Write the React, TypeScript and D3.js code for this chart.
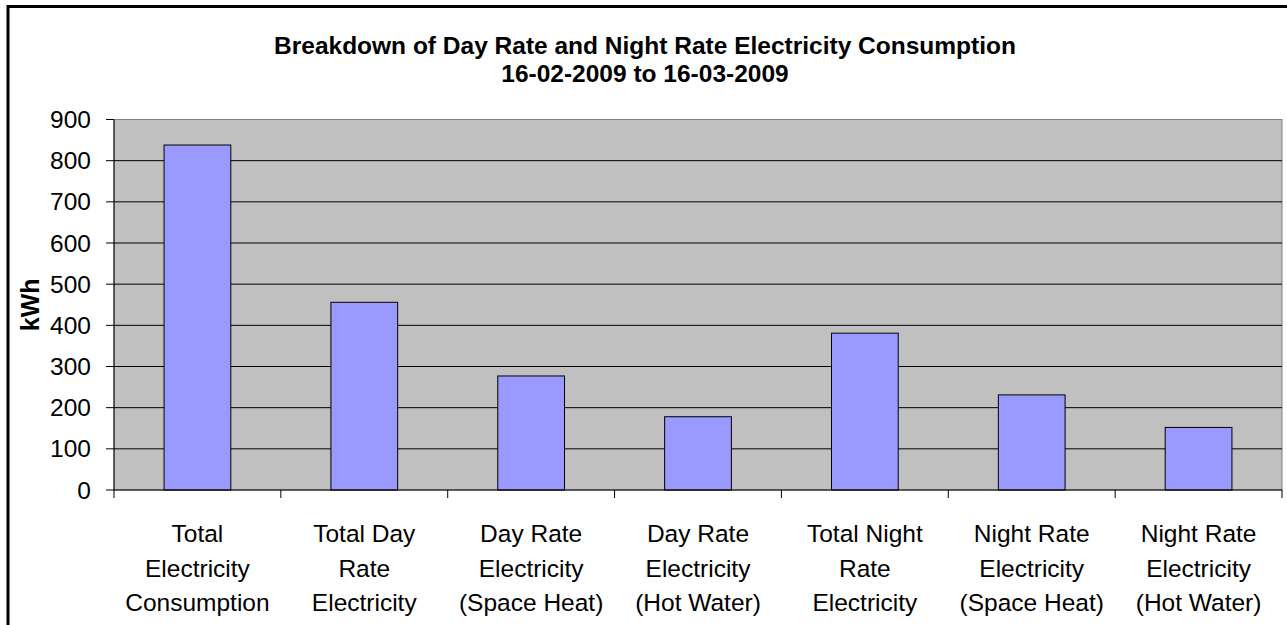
import React from "react";
import * as d3 from "d3";

const categories: string[][] = [
  ["Total", "Electricity", "Consumption"],
  ["Total Day", "Rate", "Electricity"],
  ["Day Rate", "Electricity", "(Space Heat)"],
  ["Day Rate", "Electricity", "(Hot Water)"],
  ["Total Night", "Rate", "Electricity"],
  ["Night Rate", "Electricity", "(Space Heat)"],
  ["Night Rate", "Electricity", "(Hot Water)"],
];
const values: number[] = [838, 456, 277, 178, 381, 231, 152];
const yTicks: number[] = [0, 100, 200, 300, 400, 500, 600, 700, 800, 900];
const titleLines: string[] = [
  "Breakdown of Day Rate and Night Rate Electricity Consumption",
  "16-02-2009 to 16-03-2009",
];
const yLabel = "kWh";

const W = 1287;
const H = 625;
const plot = { left: 114, right: 1282, top: 119.5, bottom: 490 };

export default function App() {
  const x = d3
    .scaleBand<number>()
    .domain(values.map((_, i) => i))
    .range([plot.left, plot.right])
    .paddingInner(0)
    .paddingOuter(0);
  const y = d3.scaleLinear().domain([0, 900]).range([plot.bottom, plot.top]);
  const bw = x.bandwidth() * 0.4;
  const font = "Arial, 'Liberation Sans', sans-serif";

  return (
    <div style={{ position: "absolute", left: 0, top: 0 }}>
      <svg width={W} height={H} style={{ display: "block" }} fontFamily={font}>
        <rect x={0} y={0} width={W} height={H} fill="#fff" />
        <rect x={8} y={6.5} width={1400} height={800} fill="none" stroke="#000" strokeWidth={3} />
        {titleLines.map((t, i) => (
          <text
            key={i}
            x={(8 + plot.right) / 2}
            y={53.5 + i * 28.5}
            textAnchor="middle"
            fontWeight="bold"
            fontSize={24.5}
          >
            {t}
          </text>
        ))}
        <rect
          x={plot.left}
          y={plot.top}
          width={plot.right - plot.left}
          height={plot.bottom - plot.top}
          fill="#C0C0C0"
          stroke="#808080"
          strokeWidth={1}
        />
        {yTicks.map((t) => (
          <g key={t}>
            {t > 0 && t < 900 && (
              <line x1={plot.left} x2={plot.right} y1={y(t)} y2={y(t)} stroke="#000" strokeWidth={1} />
            )}
            <line x1={plot.left - 8} x2={plot.left} y1={y(t)} y2={y(t)} stroke="#000" strokeWidth={1} />
            <text x={91} y={y(t)} dy="0.35em" textAnchor="end" fontSize={24.5}>
              {t}
            </text>
          </g>
        ))}
        {values.map((v, i) => {
          const cx = (x(i) as number) + x.bandwidth() / 2;
          return (
            <rect
              key={i}
              x={cx - bw / 2}
              y={y(v)}
              width={bw}
              height={plot.bottom - y(v)}
              fill="#9999FF"
              stroke="#000"
              strokeWidth={1}
            />
          );
        })}
        <line x1={plot.left} x2={plot.left} y1={plot.top} y2={plot.bottom} stroke="#000" strokeWidth={1} />
        <line x1={plot.left} x2={plot.right} y1={plot.bottom} y2={plot.bottom} stroke="#000" strokeWidth={1} />
        {d3.range(values.length + 1).map((i) => {
          const xx = plot.left + i * x.bandwidth();
          return <line key={i} x1={xx} x2={xx} y1={plot.bottom} y2={plot.bottom + 8} stroke="#000" strokeWidth={1} />;
        })}
        {categories.map((lines, i) => {
          const cx = (x(i) as number) + x.bandwidth() / 2;
          return (
            <text key={i} x={cx} textAnchor="middle" fontSize={24.5}>
              {lines.map((l, j) => (
                <tspan key={j} x={cx} y={542 + j * 34.5}>
                  {l}
                </tspan>
              ))}
            </text>
          );
        })}
        <text
          transform={`translate(39, ${(plot.top + plot.bottom) / 2}) rotate(-90)`}
          textAnchor="middle"
          fontWeight="bold"
          fontSize={25}
        >
          {yLabel}
        </text>
      </svg>
    </div>
  );
}
